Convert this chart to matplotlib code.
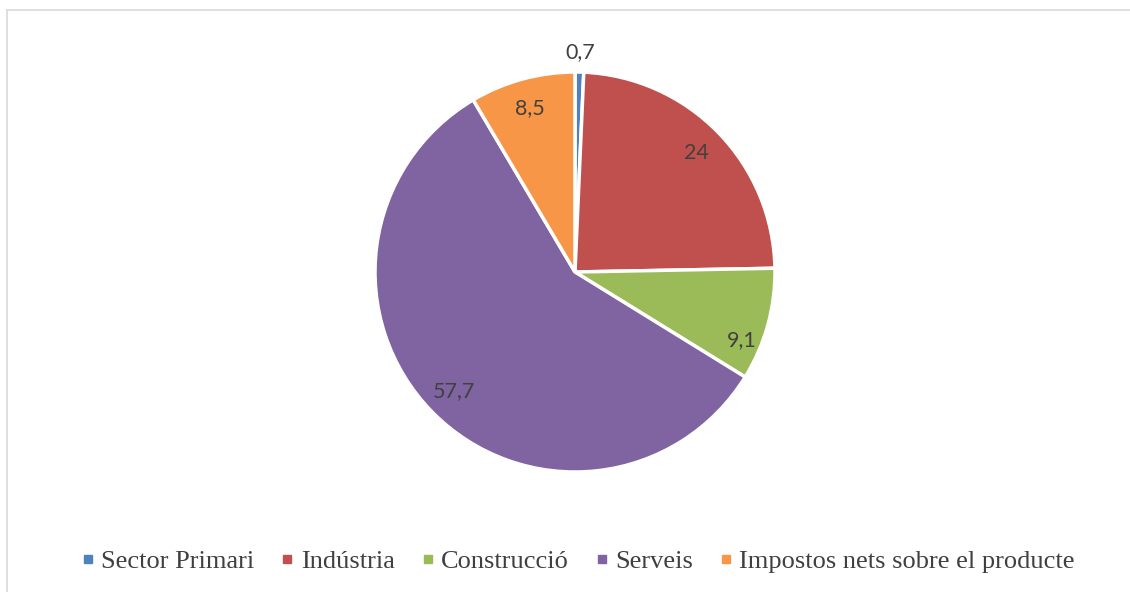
import matplotlib.pyplot as plt
from matplotlib.lines import Line2D
import numpy as np

sectors = ["Sector Primari", "Indústria", "Construcció", "Serveis",
           "Impostos nets sobre el producte"]
values = [0.7, 24, 9.1, 57.7, 8.5]
labels = ["0,7", "24", "9,1", "57,7", "8,5"]
colors = ["#4F81BD", "#C0504D", "#9BBB59", "#8064A2", "#F79646"]

W, H = 1130, 592
fig = plt.figure(figsize=(W / 100, H / 100), dpi=100)

# chart border (light grey, only top/left visible)
fig.add_artist(Line2D([7 / W, 7 / W], [0, 1 - 10 / H], color="#d9d9d9", lw=1.2))
fig.add_artist(Line2D([7 / W, 1], [1 - 10 / H, 1 - 10 / H], color="#d9d9d9", lw=1.2))

cx, cy, r = 575, 272, 200
ax = fig.add_axes([(cx - r) / W, (H - cy - r) / H, 2 * r / W, 2 * r / H])
wedges, _ = ax.pie(values, colors=colors, startangle=90, counterclock=False,
                   wedgeprops=dict(edgecolor="white", linewidth=2.5))
ax.set_xlim(-1, 1)
ax.set_ylim(-1, 1)
ax.set_aspect("equal")
ax.axis("off")

# data labels
cum = np.cumsum([0] + values[:-1])
for i, (v, lab) in enumerate(zip(values, labels)):
    mid = (cum[i] + v / 2) / sum(values) * 2 * np.pi
    dist = 0.85
    if i == 0:
        dist = 1.1
    if i == 2:
        mid += 0.12
        dist = 0.9
    x, y = dist * np.sin(mid), dist * np.cos(mid)
    ax.text(x, y, lab, ha="center", va="center", fontsize=15.5,
            family="Lato", color="#404040", clip_on=False)

handles = [Line2D([], [], marker="s", linestyle="none", markersize=6,
                  markerfacecolor=c, markeredgecolor=c) for c in colors]
fig.legend(handles, sectors, loc="center", bbox_to_anchor=(0.512, 1 - 561 / H),
           ncol=5, frameon=False, handlelength=0.4, handletextpad=0.3,
           columnspacing=1.05,
           prop=dict(family="Liberation Serif", size=19), labelcolor="#404040")

fig.savefig("out.png", dpi=100)
